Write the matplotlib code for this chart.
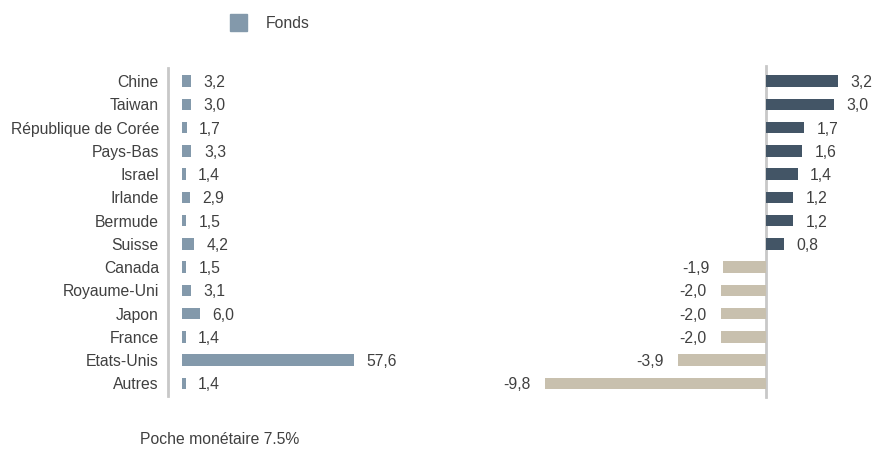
import matplotlib
matplotlib.use("Agg")
import matplotlib.pyplot as plt

plt.rcParams['font.family'] = ['Liberation Sans', 'DejaVu Sans']

countries = ["Chine", "Taiwan", "République de Corée", "Pays-Bas", "Israel", "Irlande",
             "Bermude", "Suisse", "Canada", "Royaume-Uni", "Japon", "France", "Etats-Unis", "Autres"]
fonds = [3.2, 3.0, 1.7, 3.3, 1.4, 2.9, 1.5, 4.2, 1.5, 3.1, 6.0, 1.4, 57.6, 1.4]
ecart = [3.2, 3.0, 1.7, 1.6, 1.4, 1.2, 1.2, 0.8, -1.9, -2.0, -2.0, -2.0, -3.9, -9.8]
legend_label = "Fonds"
footnote = "Poche monétaire 7.5%"

c_fonds = "#8399AB"
c_pos = "#435566"
c_neg = "#C8C0AE"
c_text = "#404040"
c_axis = "#C8C8C8"
fs = 11.3

W, H = 876, 449
fig = plt.figure(figsize=(W / 100, H / 100), dpi=100)

bottom = 1 - 395 / H
top = 1 - 69.5 / H

def fmt(v):
    return f"{v:.1f}".replace(".", ",")

# Left panel
axl = fig.add_axes([168 / W, bottom, 253.5 / W, top - bottom])
y = list(range(len(countries)))
axl.barh(y, fonds, height=0.5, color=c_fonds, left=0)
axl.set_xlim(-4.5, 80)
axl.set_ylim(len(countries) - 0.5, -0.5)
axl.set_yticks(y)
axl.set_yticklabels(countries, fontsize=fs, color=c_text)
axl.tick_params(axis='y', length=0, pad=6.5)
axl.set_xticks([])
for s in ["top", "right", "bottom"]:
    axl.spines[s].set_visible(False)
axl.spines["left"].set_color(c_axis)
axl.spines["left"].set_linewidth(2)
axl.spines["left"].set_bounds(len(countries) - 0.45, -0.55)
for yi, v in zip(y, fonds):
    axl.annotate(fmt(v), (v, yi), xytext=(9, 0), textcoords="offset points",
                 ha="left", va="center_baseline", fontsize=fs, color=c_text, annotation_clip=False)

# Right panel
axr = fig.add_axes([494.8 / W, bottom, 372.9 / W, top - bottom])
colors = [c_pos if v >= 0 else c_neg for v in ecart]
axr.barh(y, ecart, height=0.5, color=colors)
axr.set_xlim(-12, 4.5)
axr.set_ylim(len(countries) - 0.5, -0.5)
axr.axvline(0, ymin=-0.005, ymax=1.01, color=c_axis, linewidth=2, zorder=0, clip_on=False)
axr.set_xticks([])
axr.set_yticks([])
for s in axr.spines.values():
    s.set_visible(False)
for yi, v in zip(y, ecart):
    if v >= 0:
        axr.annotate(fmt(v), (v, yi), xytext=(9, 0), textcoords="offset points",
                     ha="left", va="center_baseline", fontsize=fs, color=c_text, annotation_clip=False)
    else:
        axr.annotate(fmt(v), (v, yi), xytext=(-10, 0), textcoords="offset points",
                     ha="right", va="center_baseline", fontsize=fs, color=c_text, annotation_clip=False)

# Legend
fig.patches.append(plt.Rectangle((230 / W, 1 - 30.5 / H), 16.5 / W, 16.5 / H,
                                 transform=fig.transFigure, color=c_fonds))
fig.text(266 / W, 1 - 23 / H, legend_label, fontsize=fs, color=c_text, va="center", ha="left")

# Footnote
fig.text(140 / W, 1 - 440 / H, footnote, fontsize=fs, color=c_text, va="center", ha="left")

fig.savefig("out.png", dpi=100)
